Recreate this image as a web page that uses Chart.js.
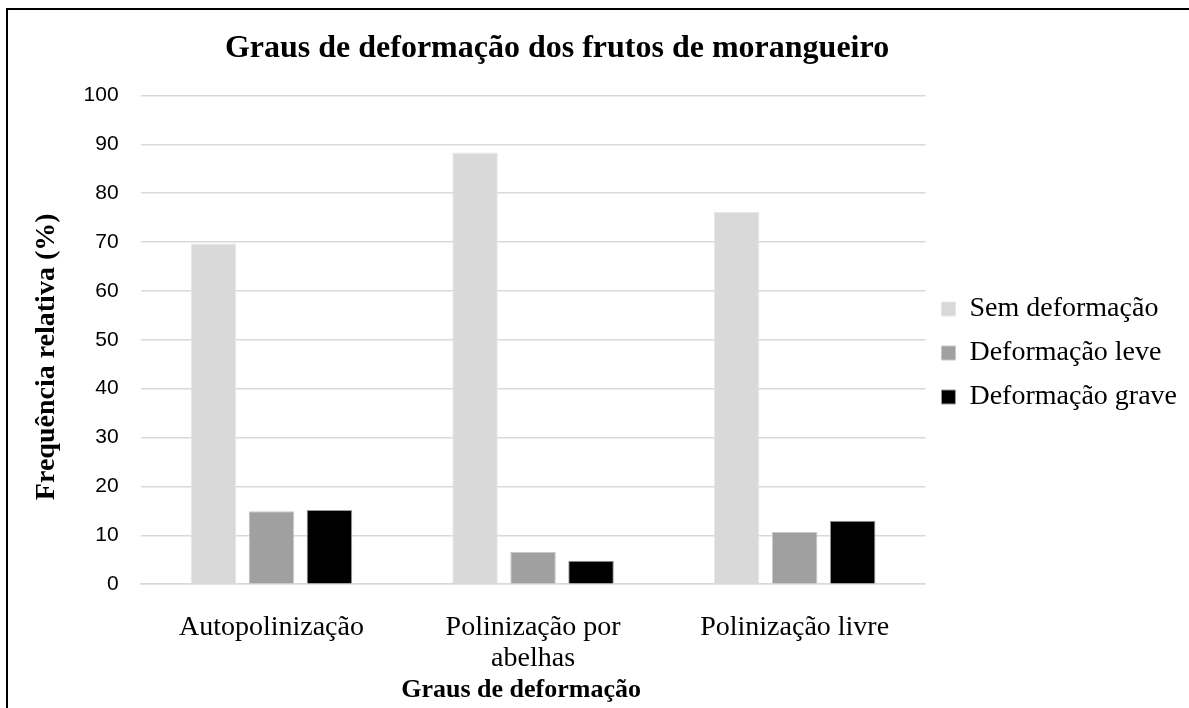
<!DOCTYPE html>
<html>
<head>
<meta charset="utf-8">
<script src="https://cdn.jsdelivr.net/npm/chart.js@4"></script>
<style>
  html, body { margin: 0; padding: 0; background: #fff; }
  #wrap { position: relative; width: 1189px; height: 708px; }
  canvas { display: block; }
</style>
</head>
<body>
<div id="wrap"><canvas id="c" width="1189" height="708"></canvas></div>
<script>
const categories = ['Autopolinização', ['Polinização por', 'abelhas'], 'Polinização livre'];
const seriesNames = ['Sem deformação', 'Deformação leve', 'Deformação grave'];
const semDeformacao = [69.7, 88.3, 76.2];
const deformacaoLeve = [14.9, 6.6, 10.7];
const deformacaoGrave = [15.2, 4.8, 13.0];
const yMin = 0, yMax = 100, yStep = 10;

const serif = '"Liberation Serif", "Times New Roman", serif';
const sans = '"Liberation Sans", Arial, sans-serif';

function shiftTitle(scale, dx, dy) {
  if (!scale || scale._titleShifted) return;
  scale._titleShifted = true;
  const orig = scale.drawTitle;
  scale.drawTitle = function () {
    const l = this.left, r = this.right, t = this.top, b = this.bottom;
    this.left += dx; this.right += dx; this.top += dy; this.bottom += dy;
    orig.call(this);
    this.left = l; this.right = r; this.top = t; this.bottom = b;
  };
}

const frame = {
  id: 'frame',
  afterLayout(chart) {
    if (chart.titleBlock) {
      chart.titleBlock.left = 14;
      chart.titleBlock.right = 1100;
    }
    const lg = chart.legend;
    if (lg) {
      lg.top = 99; lg.bottom = 607; lg.height = 508;
    }
    shiftTitle(chart.scales.y, 0, 17);
    shiftTitle(chart.scales.x, -12, 0);
  },
  afterDraw(chart) {
    const ctx = chart.ctx;
    ctx.save();
    ctx.strokeStyle = '#000';
    ctx.lineWidth = 2;
    ctx.beginPath();
    ctx.moveTo(7, 708);
    ctx.lineTo(7, 9);
    ctx.lineTo(1189, 9);
    ctx.stroke();
    ctx.restore();
  }
};

new Chart(document.getElementById('c'), {
  type: 'bar',
  data: {
    labels: categories,
    datasets: [
      { label: seriesNames[0], data: semDeformacao, backgroundColor: '#d9d9d9', borderColor: '#e6e6e6', borderWidth: 1 },
      { label: seriesNames[1], data: deformacaoLeve, backgroundColor: '#a0a0a0', borderColor: '#c8c8c8', borderWidth: 1 },
      { label: seriesNames[2], data: deformacaoGrave, backgroundColor: '#000000', borderColor: '#9a9a9a', borderWidth: 1 }
    ]
  },
  plugins: [frame],
  options: {
    responsive: false,
    animation: false,
    datasets: { bar: { categoryPercentage: 0.665, barPercentage: 0.785 } },
    layout: { padding: { left: 14, right: 2, top: 14, bottom: 2 } },
    plugins: {
      tooltip: { enabled: false },
      title: {
        display: true,
        text: 'Graus de deformação dos frutos de morangueiro',
        color: '#000',
        font: { family: serif, size: 32, weight: 'bold' },
        padding: { top: 16, bottom: 27 }
      },
      legend: {
        position: 'right',
        labels: {
          color: '#000',
          font: { family: serif, size: 28 },
          boxWidth: 14,
          boxHeight: 14,
          padding: 16
        }
      }
    },
    scales: {
      x: {
        grid: { display: false, drawTicks: false },
        border: { display: true, color: '#d9d9d9', width: 1.5 },
        ticks: { color: '#000', font: { family: serif, size: 28, lineHeight: 1.1 }, maxRotation: 0, padding: 28 },
        title: {
          display: true,
          text: 'Graus de deformação',
          color: '#000',
          font: { family: serif, size: 26, weight: 'bold' },
          padding: { top: -27, bottom: 0 }
        }
      },
      y: {
        min: yMin, max: yMax,
        ticks: { stepSize: yStep, color: '#000', font: { family: sans, size: 21 }, padding: 22 },
        grid: { color: '#d9d9d9', lineWidth: 1.5, drawTicks: false },
        border: { display: false },
        title: {
          display: true,
          text: 'Frequência relativa (%)',
          color: '#000',
          font: { family: serif, size: 28, weight: 'bold' },
          padding: { top: 16, bottom: -2 }
        }
      }
    }
  }
});
</script>
</body>
</html>
